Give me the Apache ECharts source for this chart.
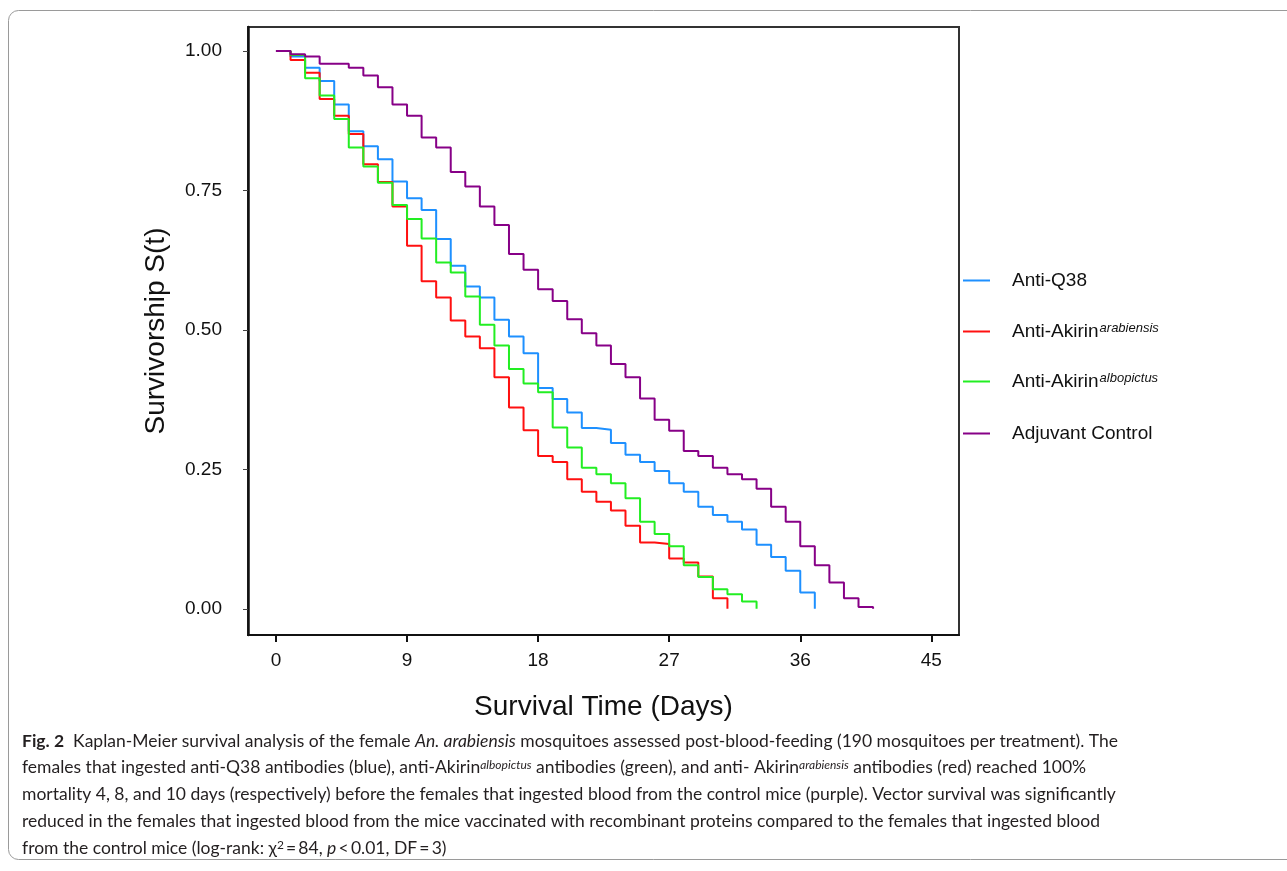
<!DOCTYPE html>
<html><head><meta charset="utf-8">
<script src="https://cdn.jsdelivr.net/npm/echarts@6/dist/echarts.min.js"></script>
<style>html,body{margin:0;padding:0;background:#fff}#c{width:1287px;height:871px}</style>
</head><body><div id="c"></div>
<script>
// ---- data ----
const xTicks = [0, 9, 18, 27, 36, 45];
const yTicks = [0, 0.25, 0.5, 0.75, 1.0];
const seriesNames = ['Anti-Q38', 'Anti-Akirin arabiensis', 'Anti-Akirin albopictus', 'Adjuvant Control'];
const seriesColors = ['#1E90FF', '#FF1010', '#22EE22', '#870087'];

const daysQ38 = [0,1,2,3,4,5,6,7,8,9,10,11,12,13,14,15,16,17,18,19,20,21,22,23,24,25,26,27,28,29,30,31,32,33,34,35,36,37];
const antiQ38 = [1.000,0.990,0.970,0.946,0.904,0.856,0.829,0.806,0.766,0.736,0.715,0.663,0.615,0.578,0.558,0.518,0.488,0.458,0.396,0.376,0.352,0.324,0.321,0.297,0.276,0.263,0.247,0.225,0.210,0.183,0.168,0.156,0.142,0.115,0.093,0.068,0.029,0.000];

const daysArab = [0,1,2,3,4,5,6,7,8,9,10,11,12,13,14,15,16,17,18,19,20,21,22,23,24,25,26,27,28,29,30,31];
const akirinArab = [1.000,0.984,0.961,0.914,0.884,0.851,0.797,0.765,0.721,0.651,0.587,0.558,0.517,0.488,0.467,0.415,0.361,0.320,0.274,0.263,0.232,0.210,0.192,0.176,0.149,0.119,0.116,0.090,0.083,0.058,0.019,0.000];

const daysAlbo = [0,1,2,3,4,5,6,7,8,9,10,11,12,13,14,15,16,17,18,19,20,21,22,23,24,25,26,27,28,29,30,31,32,33];
const akirinAlbo = [1.000,0.993,0.951,0.920,0.878,0.827,0.793,0.764,0.724,0.699,0.664,0.621,0.603,0.560,0.509,0.472,0.430,0.404,0.388,0.325,0.289,0.253,0.241,0.225,0.198,0.156,0.134,0.112,0.078,0.057,0.035,0.026,0.013,0.000];

const daysCtrl = [0,1,2,3,4,5,6,7,8,9,10,11,12,13,14,15,16,17,18,19,20,21,22,23,24,25,26,27,28,29,30,31,32,33,34,35,36,37,38,39,40,41];
const adjuvantCtrl = [1.000,0.994,0.990,0.977,0.977,0.970,0.956,0.935,0.904,0.884,0.845,0.827,0.783,0.757,0.721,0.688,0.636,0.608,0.573,0.552,0.519,0.494,0.472,0.439,0.415,0.377,0.339,0.319,0.283,0.274,0.253,0.241,0.232,0.215,0.183,0.156,0.112,0.078,0.047,0.019,0.003,0.000];

const xTitle = 'Survival Time (Days)';
const yTitle = 'Survivorship S(t)';

const captionLines = [
  '{b|Fig. 2}  Kaplan-Meier survival analysis of the female {i|An. arabiensis} mosquitoes assessed post-blood-feeding (190 mosquitoes per treatment). The',
  'females that ingested anti-Q38 antibodies (blue), anti-Akirin{sup|albopictus} antibodies (green), and anti- Akirin{sup|arabiensis} antibodies (red) reached 100%',
  'mortality 4, 8, and 10 days (respectively) before the females that ingested blood from the control mice (purple). Vector survival was significantly',
  'reduced in the females that ingested blood from the mice vaccinated with recombinant proteins compared to the females that ingested blood',
  'from the control mice (log-rank: \u03C7{sq|2}\u2009=\u200984, {i|p}\u2009<\u20090.01, DF\u2009=\u20093)'
];

// ---- chart ----
const pairs = (xs, ys) => xs.map((x, k) => [x, ys[k]]);
const allData = [pairs(daysQ38, antiQ38), pairs(daysArab, akirinArab), pairs(daysAlbo, akirinAlbo), pairs(daysCtrl, adjuvantCtrl)];

const chart = echarts.init(document.getElementById('c'), null, {renderer: 'canvas'});
const AX = 'Liberation Sans, Arial, sans-serif';
const CAP = 'Lato, sans-serif';
const CFS = 17.5;
const legendRowsTop = [271, 322, 372, 424];

const legendFmt = n => n.replace(/^Anti-Akirin (\w+)$/, 'Anti-Akirin{s|$1}');

const option = {
  animation: false,
  backgroundColor: '#fff',
  grid: {left: 248, top: 27, width: 711, height: 608, show: true, borderColor: '#333', borderWidth: 2, backgroundColor: 'transparent', containLabel: false, outerBoundsMode: 'none'},
  xAxis: {
    type: 'value', min: -1.92, max: 46.9,
    splitLine: {show: false},
    axisLine: {show: true, onZero: false, lineStyle: {color: '#111', width: 2}},
    axisTick: {show: true, length: 7, lineStyle: {color: '#111', width: 2}, customValues: xTicks},
    axisLabel: {customValues: xTicks, color: '#111', fontFamily: AX, fontSize: 19, margin: 16},
    name: xTitle, nameLocation: 'middle', nameGap: 58,
    nameTextStyle: {fontFamily: AX, fontSize: 28, color: '#111'}
  },
  yAxis: {
    type: 'value', min: -0.047, max: 1.043,
    splitLine: {show: false},
    axisLine: {show: true, onZero: false, lineStyle: {color: '#111', width: 2.5}},
    axisTick: {show: true, length: 5, lineStyle: {color: '#444', width: 1}, customValues: yTicks},
    axisLabel: {customValues: yTicks, color: '#111', fontFamily: AX, fontSize: 19, margin: 26, formatter: v => v.toFixed(2)},
    name: yTitle, nameLocation: 'middle', nameGap: 78, nameRotate: 90,
    nameTextStyle: {fontFamily: AX, fontSize: 28, color: '#111'}
  },
  legend: seriesNames.map((n, k) => ({
    data: [n], left: 963, top: legendRowsTop[k], orient: 'vertical', padding: 0,
    icon: 'rect', itemWidth: 27, itemHeight: 2,
    formatter: legendFmt,
    textStyle: {fontFamily: AX, fontSize: 19, color: '#111', padding: [0, 0, 0, 17],
      rich: {s: {fontFamily: AX, fontSize: 13, fontStyle: 'italic', color: '#111', verticalAlign: 'top', padding: [0, 0, 0, 1]}}},
    selectedMode: false
  })),
  series: seriesNames.map((n, k) => ({
    name: n, type: 'line', step: 'end', data: allData[k], showSymbol: false, symbol: 'none',
    color: seriesColors[k], lineStyle: {color: seriesColors[k], width: 2}, z: 2 + k
  })),
  graphic: [
    {type: 'rect', silent: true, shape: {x: 8.5, y: 10.5, width: 1300, height: 849, r: 10}, style: {fill: 'none', stroke: '#9a9a9a', lineWidth: 1}},
  ].concat(captionLines.map((t, k) => ({
    type: 'text', left: 22, top: 732 + k * 26.8, silent: true,
    style: {text: t, fontFamily: CAP, fontSize: CFS, fill: '#231f20',
      rich: {
        b: {fontFamily: CAP, fontSize: CFS, fontWeight: 'bold', fill: '#231f20'},
        i: {fontFamily: CAP, fontSize: CFS, fontStyle: 'italic', fill: '#231f20'},
        sup: {fontFamily: CAP, fontSize: 12, fontStyle: 'italic', fill: '#231f20', verticalAlign: 'top'},
        sq: {fontFamily: CAP, fontSize: 12, fill: '#231f20', verticalAlign: 'top'}
      }}
  })))
};
chart.setOption(option);
</script></body></html>
